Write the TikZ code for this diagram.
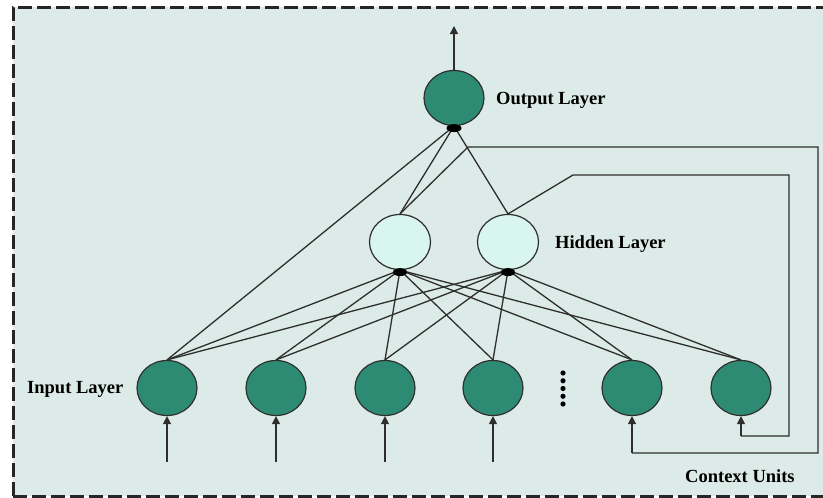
\documentclass[tikz,border=0pt]{standalone}
\usepackage{fontspec}
\setmainfont{Liberation Serif}
\usetikzlibrary{shapes.geometric,arrows.meta}
\definecolor{bgmint}{HTML}{DCEBE7}
\definecolor{teal}{HTML}{2E8B73}
\definecolor{hidfill}{HTML}{D8F5EE}
\definecolor{linegray}{HTML}{2E2E2E}
\tikzset{
  darknode/.style={ellipse,draw=linegray,line width=1.2pt,fill=teal,minimum width=60pt,minimum height=55pt,inner sep=0pt},
  lightnode/.style={ellipse,draw=linegray,line width=1.2pt,fill=hidfill,minimum width=61pt,minimum height=55pt,inner sep=0pt},
  conn/.style={draw=linegray,line width=1.3pt},
  arr/.style={conn,-{Triangle[width=8pt,length=8pt]}},
  lbl/.style={anchor=base west,inner sep=0pt,font=\fontsize{18.5}{20}\selectfont\bfseries},
  blob/.style={fill=black,draw=none}
}
\begin{document}
\begin{tikzpicture}[x=1pt,y=-1pt]
\clip (0,0) rectangle (823,498);
\fill[white] (0,0) rectangle (823,498);
\fill[bgmint] (13,7) rectangle (840,496);
\draw[line width=3pt,black!85,dash pattern=on 14pt off 5pt] (13,496) -- (13,7) -- (840,7);
\draw[line width=3pt,black!85,dash pattern=on 14pt off 5pt] (13,496) -- (840,496);

% nodes
\node[darknode] (out) at (454,98) {};
\node[lightnode] (h1) at (400,242) {};
\node[lightnode] (h2) at (508,242) {};
\node[darknode] (i1) at (167,388) {};
\node[darknode] (i2) at (276,388) {};
\node[darknode] (i3) at (385,388) {};
\node[darknode] (i4) at (493,388) {};
\node[darknode] (c1) at (632,388) {};
\node[darknode] (c2) at (741,388) {};

% dots
\foreach \yy in {373,380.75,388.5,396.25,404}
  \fill[black] (563,\yy) circle (2.6pt);

% connections input -> hidden
\foreach \n in {i1,i2,i3,i4,c1,c2}{
  \draw[conn] (\n.north) -- (h1.south);
  \draw[conn] (\n.north) -- (h2.south);
}
\draw[conn] (i1.north) -- (out.south);
\draw[conn] (h1.north) -- (out.south);
\draw[conn] (h2.north) -- (out.south);

% blobs
\fill[blob] ([yshift=-2pt]out.south) ellipse (7.5pt and 4pt);
\fill[blob] ([yshift=-2pt]h1.south) ellipse (7pt and 4pt);
\fill[blob] ([yshift=-2pt]h2.south) ellipse (7pt and 4pt);

% output arrow
\coordinate (otop) at (454,26);
\draw[arr] (out.north) -- (otop);

% input arrows
\foreach \n in {i1,i2,i3,i4}{
  \draw[arr] (\n.south |- 0,462) -- (\n.south);
}

% context loops
\coordinate (k1) at (573,175);
\coordinate (k2) at (789,175);
\coordinate (k3) at (789,436);
\coordinate (k4) at (741,436);
\draw[conn] (h2.north) -- (k1) -- (k2) -- (k3) -- (k4);
\draw[arr] (k4) -- (c2.south);

\coordinate (m1) at (468,147);
\coordinate (m2) at (818,147);
\coordinate (m3) at (818,453);
\coordinate (m4) at (632,453);
\draw[conn] (h1.north) -- (m1) -- (m2) -- (m3) -- (m4);
\draw[arr] (m4) -- (c1.south);

% labels
\node[lbl] (lout) at (496,104) {Output Layer};
\node[lbl] (lhid) at (555,248) {Hidden Layer};
\node[lbl] (linp) at (27,393) {Input Layer};
\node[lbl] (lctx) at (685,482) {Context Units};
\end{tikzpicture}
\end{document}
